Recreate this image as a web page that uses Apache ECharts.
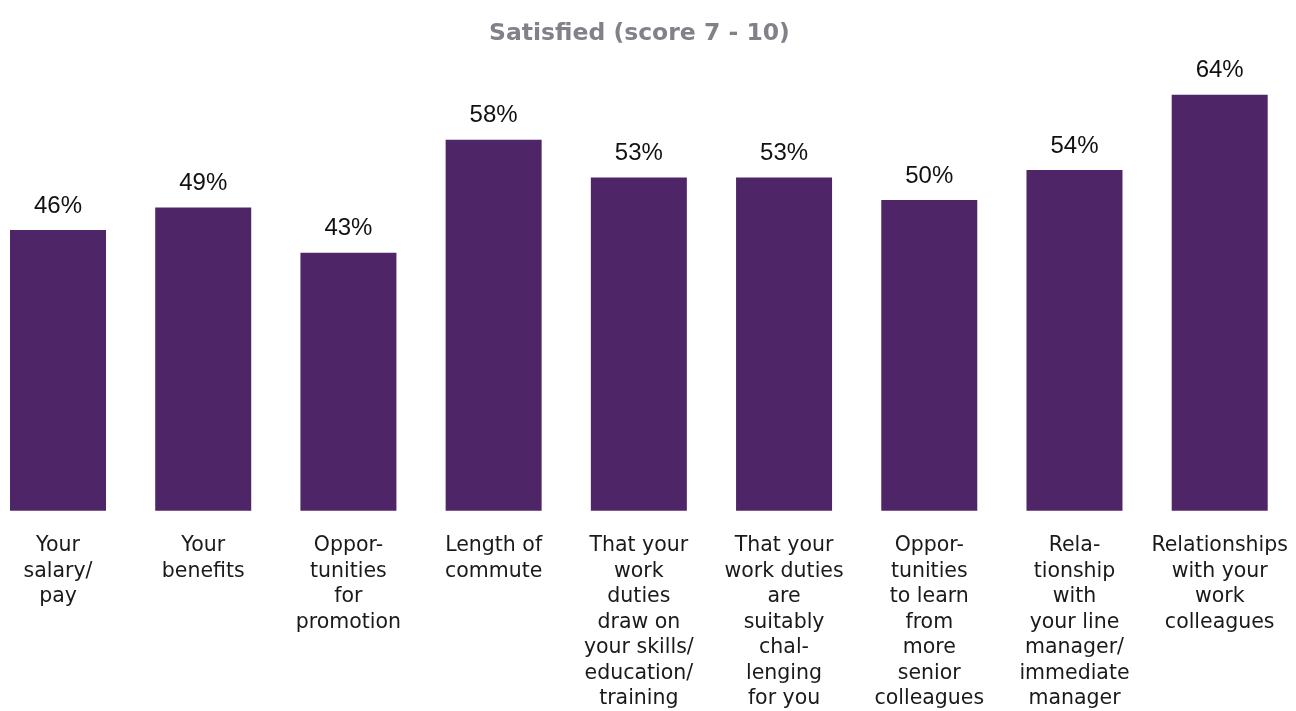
<!DOCTYPE html>
<html>
<head>
<meta charset="utf-8">
<script src="https://cdn.jsdelivr.net/npm/echarts@6/dist/echarts.min.js"></script>
<style>
  html, body { margin: 0; padding: 0; background: #ffffff; }
  #chart { width: 1296px; height: 711px; }
</style>
</head>
<body>
<div id="chart"></div>
<script>
// Share of respondents satisfied (score 7 - 10) with each aspect of their job
const categories = [
  'Your\nsalary/\npay',
  'Your\nbenefits',
  'Oppor-\ntunities\nfor\npromotion',
  'Length of\ncommute',
  'That your\nwork\nduties\ndraw on\nyour skills/\neducation/\ntraining',
  'That your\nwork duties\nare\nsuitably\nchal-\nlenging\nfor you',
  'Oppor-\ntunities\nto learn\nfrom\nmore\nsenior\ncolleagues',
  'Rela-\ntionship\nwith\nyour line\nmanager/\nimmediate\nmanager',
  'Relationships\nwith your\nwork\ncolleagues'
];
const satisfiedPct = [46, 49, 43, 58, 53, 53, 50, 54, 64];
const chartTitle = 'Satisfied (score 7 - 10)';

const chart = echarts.init(document.getElementById('chart'));
chart.setOption({
  animation: false,
  backgroundColor: '#ffffff',
  title: {
    text: chartTitle,
    left: 484,
    top: 17,
    textStyle: {
      fontFamily: 'DejaVu Sans',
      fontSize: 23.5,
      fontWeight: 'bold',
      color: '#818189'
    }
  },
  grid: {
    left: -14.6,
    right: 3.7,
    top: 49.5,
    bottom: 200.3,
    outerBoundsMode: 'none',
    containLabel: false
  },
  xAxis: {
    type: 'category',
    data: categories,
    axisLine: { show: false },
    axisTick: { show: false },
    axisLabel: {
      interval: 0,
      margin: 22.5,
      fontFamily: 'DejaVu Sans',
      fontSize: 20.5,
      lineHeight: 25.5,
      color: '#1a1a1a',
      align: 'center'
    }
  },
  yAxis: {
    type: 'value',
    min: 8.7,
    max: 70,
    startValue: 8.7,
    show: false,
    splitLine: { show: false }
  },
  series: [{
    type: 'bar',
    data: satisfiedPct,
    barWidth: 96,
    clip: true,
    itemStyle: { color: '#4e2667' },
    label: {
      show: true,
      position: 'top',
      distance: 12,
      formatter: '{c}%',
      fontFamily: 'Liberation Sans',
      fontSize: 24,
      color: '#111111'
    }
  }]
});
</script>
</body>
</html>
